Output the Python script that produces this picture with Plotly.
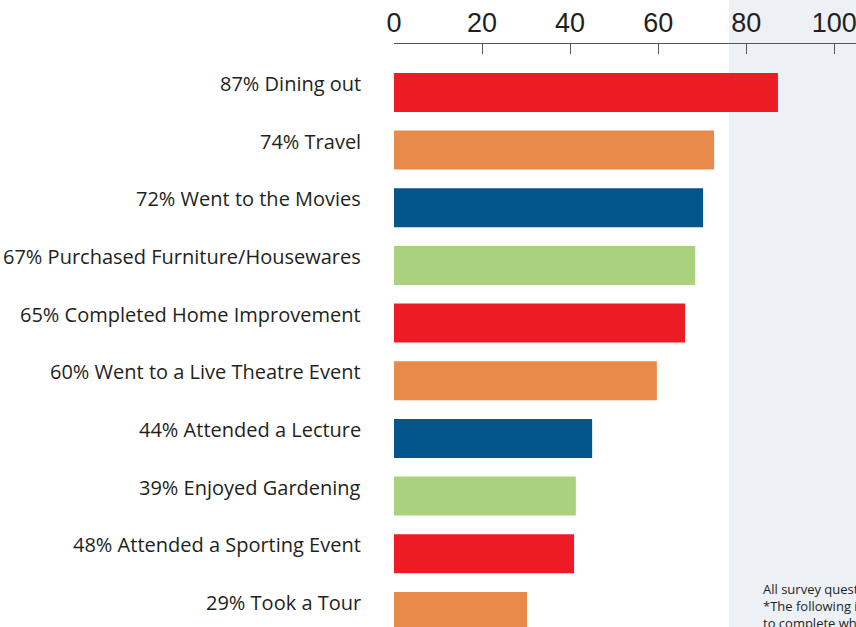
import plotly.graph_objects as go

categories = [
    "87% Dining out",
    "74% Travel",
    "72% Went to the Movies",
    "67% Purchased Furniture/Housewares",
    "65% Completed Home Improvement",
    "60% Went to a Live Theatre Event",
    "44% Attended a Lecture",
    "39% Enjoyed Gardening",
    "48% Attended a Sporting Event",
    "29% Took a Tour",
]
values = [87.2, 72.7, 70.2, 68.4, 66.1, 59.7, 45.0, 41.3, 40.9, 30.2]
bar_colors = ["#ED1C24", "#E88B4A", "#03568C", "#AAD17D",
              "#ED1C24", "#E88B4A", "#03568C", "#AAD17D",
              "#ED1C24", "#E88B4A"]
tick_vals = [0, 20, 40, 60, 80, 100]
shade_start = 76.1
note_lines = ["All survey questions were answered by respondents",
              "*The following is a list of activities respondents plan",
              "to complete when the economy improves"]

fig = go.Figure()
fig.add_trace(go.Bar(
    x=values, y=categories, orientation="h",
    marker=dict(color=bar_colors, line=dict(width=0)),
    width=0.676, hoverinfo="skip",
))

for c in categories:
    fig.add_annotation(
        x=0, xref="x", y=c, yref="y", text=c, showarrow=False,
        xanchor="right", yanchor="middle", xshift=-31, yshift=9,
        font=dict(family="'Open Sans', 'Noto Sans', sans-serif", size=20, color="#231F20"),
    )

fig.add_shape(type="rect", xref="x", yref="paper",
              x0=shade_start, x1=104.93, y0=-0.1, y1=1.2,
              fillcolor="#EDF0F5", line=dict(width=0), layer="below")

fig.add_annotation(
    x=83.4, xref="x", y=0.084, yref="paper", xanchor="left", yanchor="top",
    align="left", showarrow=False, text="<br>".join(note_lines),
    font=dict(family="'Open Sans', 'Noto Sans', sans-serif", size=13, color="#231F20"),
)

fig.update_layout(
    width=856, height=627,
    margin=dict(l=394, r=0, t=44, b=0),
    paper_bgcolor="white", plot_bgcolor="rgba(0,0,0,0)",
    showlegend=False,
    xaxis=dict(
        side="top", range=[0, 104.93], tickvals=tick_vals,
        ticks="inside", ticklen=10, tickwidth=1.3, tickcolor="#555555",
        showline=True, linecolor="#555555", linewidth=1.3,
        showgrid=False, zeroline=False, ticklabeloverflow="allow",
        tickfont=dict(family="'Liberation Sans Narrow', 'Liberation Sans', Arial, sans-serif",
                      size=27, color="#231F20"),
    ),
    yaxis=dict(
        range=[9.27, -0.84], showticklabels=False, showgrid=False,
        zeroline=False, showline=False, ticks="",
    ),
)

fig.write_html(
    "out.html",
    config={"displayModeBar": False},
    post_script="document.body.style.margin='0';document.body.style.overflow='hidden';",
)
